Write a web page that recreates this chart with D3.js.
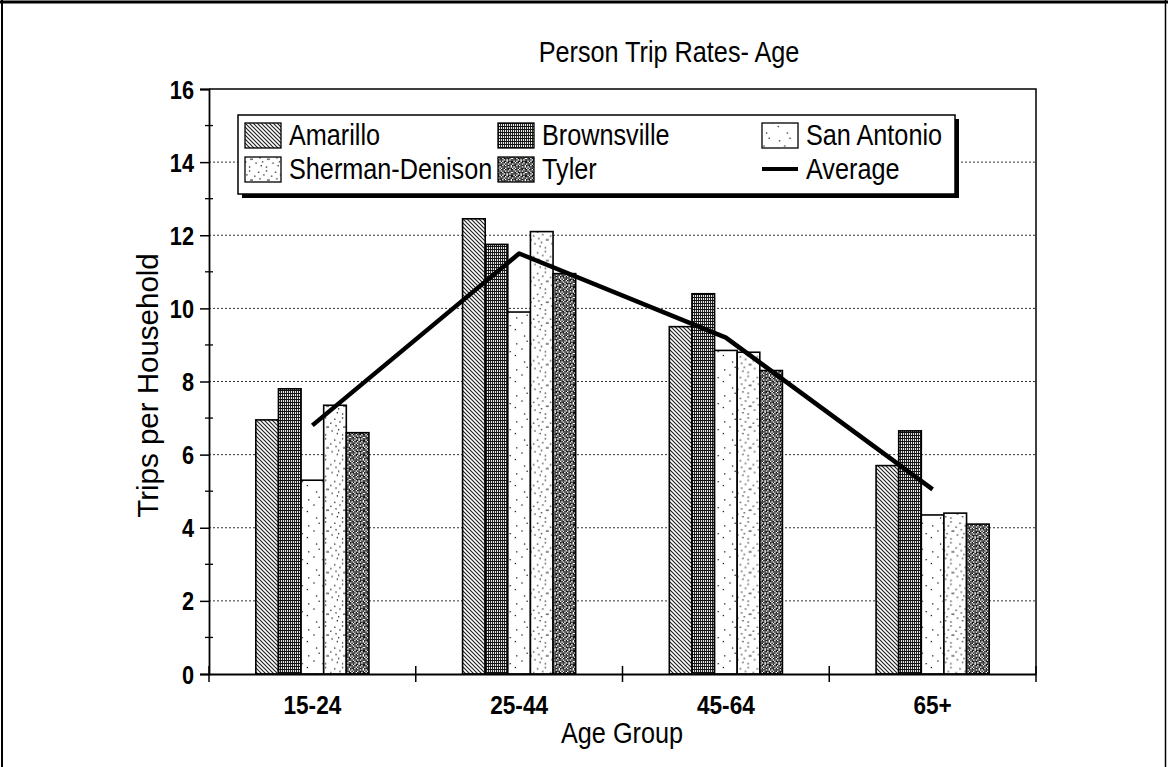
<!DOCTYPE html>
<html>
<head>
<meta charset="utf-8">
<script src="https://cdn.jsdelivr.net/npm/d3@7"></script>
<style>
  html, body { margin: 0; padding: 0; background: #fff; }
  svg { display: block; font-family: Arial, "Liberation Sans", sans-serif; }
</style>
</head>
<body>
<svg id="chart" width="1168" height="767"></svg>
<script>
// Person trip rates by age group, five study areas plus the average
const categories = ["15-24", "25-44", "45-64", "65+"];
const seriesNames = ["Amarillo", "Brownsville", "San Antonio", "Sherman-Denison", "Tyler"];
const amarillo    = [6.95, 12.45, 9.5, 5.7];
const brownsville = [7.8, 11.75, 10.4, 6.65];
const sanAntonio  = [5.3, 9.9, 8.85, 4.35];
const sherman     = [7.35, 12.1, 8.8, 4.4];
const tyler       = [6.6, 10.95, 8.3, 4.1];
const average     = [6.8, 11.5, 9.2, 5.05];
const yTicks = [0, 2, 4, 6, 8, 10, 12, 14, 16];

const seriesValues = [amarillo, brownsville, sanAntonio, sherman, tyler];

const svg = d3.select("#chart");
const W = 1168, H = 767;
const plot = { left: 209, right: 1036, top: 89, bottom: 674 };
const FONT = "Arial, 'Liberation Sans', sans-serif";
const SX = 0.87; // narrow letterforms

// ---------- fill patterns ----------
const defs = svg.append("defs");

// diagonal hatch
const pHatch = defs.append("pattern").attr("id", "p-hatch")
  .attr("patternUnits", "userSpaceOnUse").attr("width", 4).attr("height", 4);
pHatch.append("rect").attr("width", 4).attr("height", 4).attr("fill", "#fff");
pHatch.append("path").attr("d", "M-1,-1 L5,5 M-1,3 L1,5 M3,-1 L5,1")
  .attr("stroke", "#222").attr("stroke-width", 1.2);

// dense grid
const pGrid = defs.append("pattern").attr("id", "p-grid")
  .attr("patternUnits", "userSpaceOnUse").attr("width", 4).attr("height", 3);
pGrid.append("rect").attr("width", 4).attr("height", 3).attr("fill", "#fff");
pGrid.append("path").attr("d", "M0,0.5 H4 M0.6,0 V3 M2.6,0 V3")
  .attr("stroke", "#111").attr("stroke-width", 1);

// bitmap-style tiles for the stippled fills
function bitmapPattern(id, rows, px, ink) {
  const h = rows.length, w = rows[0].length;
  const p = defs.append("pattern").attr("id", id)
    .attr("patternUnits", "userSpaceOnUse").attr("width", w * px).attr("height", h * px);
  p.append("rect").attr("width", w * px).attr("height", h * px).attr("fill", "#fff");
  rows.forEach((r, j) => r.split("").forEach((c, i) => {
    if (c === "1") p.append("rect").attr("x", i * px).attr("y", j * px)
      .attr("width", px).attr("height", px).attr("fill", ink);
  }));
}
bitmapPattern("p-dark", [
  "1011011101",
  "1101101011",
  "0110111110",
  "1111010101",
  "1010110111",
  "1101101101",
  "0111011011",
  "1110101110",
  "1011111010",
  "0101101111"
], 1.4, "#151515");
bitmapPattern("p-sparse", [
  "0000000000000000",
  "0000000000000000",
  "0000010000000000",
  "0000000000000000",
  "0000000000000100",
  "0000000000000000",
  "0000000000000000",
  "0000000000000000",
  "0100000000000000",
  "0000000000000000",
  "0000000010000000",
  "0000000000000000",
  "0000000000000000",
  "0000000000001000",
  "0000000000000000",
  "0000000000000000",
  "0000000000000000",
  "0000000000000000",
  "0001000000000000",
  "0000000000000000"
], 1.3, "#222");
bitmapPattern("p-stipple", [
  "0000000000000",
  "0001000000000",
  "0000000000100",
  "0000000000000",
  "0100000000000",
  "0000000100000",
  "0000000000000",
  "0000000000010",
  "0000110000000",
  "0000000000000",
  "1000000000000",
  "0000000010000",
  "0000000000000",
  "0000000000001",
  "0001000000000",
  "0000000000000"
], 1.3, "#222");

const fills = ["url(#p-hatch)", "url(#p-grid)", "url(#p-sparse)", "url(#p-stipple)", "url(#p-dark)"];

// text with narrowed glyphs
function label(parent, x, y, str, size, anchor, weight) {
  return parent.append("text")
    .attr("transform", `translate(${x},${y}) scale(${SX},1)`)
    .attr("text-anchor", anchor || "start")
    .attr("font-family", FONT)
    .attr("font-size", size)
    .attr("font-weight", weight || "normal")
    .attr("fill", "#000")
    .text(str);
}

// ---------- outer frame ----------
svg.append("line").attr("x1", 0).attr("x2", W).attr("y1", 2).attr("y2", 2)
  .attr("stroke", "#000").attr("stroke-width", 3);
svg.append("line").attr("x1", 2).attr("x2", 2).attr("y1", 0).attr("y2", H)
  .attr("stroke", "#000").attr("stroke-width", 2);
svg.append("line").attr("x1", 1165.5).attr("x2", 1165.5).attr("y1", 0).attr("y2", H)
  .attr("stroke", "#000").attr("stroke-width", 1.5);

// ---------- scales ----------
const y = d3.scaleLinear().domain([0, 16]).range([plot.bottom, plot.top]);
const x0 = d3.scaleBand().domain(categories).range([plot.left, plot.right])
  .paddingInner(0.453).paddingOuter(0.2265);
const x1 = d3.scaleBand().domain(seriesNames).range([0, x0.bandwidth()]);

// ---------- gridlines ----------
svg.append("g").selectAll("line").data(yTicks.filter(d => d > 0 && d < 16)).join("line")
  .attr("x1", plot.left).attr("x2", plot.right)
  .attr("y1", d => y(d)).attr("y2", d => y(d))
  .attr("stroke", "#333").attr("stroke-width", 1).attr("stroke-dasharray", "2,2");

// plot border (top and right)
svg.append("path")
  .attr("d", `M${plot.left},${plot.top} H${plot.right} V${plot.bottom}`)
  .attr("fill", "none").attr("stroke", "#000").attr("stroke-width", 1.5);

// ---------- bars ----------
const barRows = [];
categories.forEach((c, ci) => seriesNames.forEach((s, si) =>
  barRows.push({ c, s, si, v: seriesValues[si][ci] })));

svg.append("g").selectAll("rect").data(barRows).join("rect")
  .attr("x", d => x0(d.c) + x1(d.s))
  .attr("y", d => y(d.v))
  .attr("width", x1.bandwidth())
  .attr("height", d => y(0) - y(d.v))
  .attr("fill", d => fills[d.si])
  .attr("stroke", "#000").attr("stroke-width", 1.6);

// ---------- average line ----------
const line = d3.line()
  .x((d, i) => x0(categories[i]) + x0.bandwidth() / 2)
  .y(d => y(d));
svg.append("path").datum(average).attr("d", line)
  .attr("fill", "none").attr("stroke", "#000").attr("stroke-width", 4.5)
  .attr("stroke-linejoin", "round");

// ---------- axes ----------
const yAxis = d3.axisLeft(y).tickValues(yTicks).tickSize(9).tickFormat("");
const gy = svg.append("g").attr("transform", `translate(${plot.left},0)`).call(yAxis);
gy.select(".domain").attr("stroke", "#000").attr("stroke-width", 1.8);
gy.selectAll(".tick line").attr("stroke", "#000").attr("stroke-width", 1.5);
gy.selectAll(".tick").each(function (d) {
  label(d3.select(this), -15, 9, d, 25, "end", "bold");
});
// minor ticks at odd values
const minor = d3.range(1, 16, 2);
svg.append("g").selectAll("line").data(minor).join("line")
  .attr("x1", plot.left - 4).attr("x2", plot.left + 4)
  .attr("y1", d => y(d)).attr("y2", d => y(d))
  .attr("stroke", "#000").attr("stroke-width", 1.3);

const xAxis = d3.axisBottom(x0).tickSize(0).tickFormat("");
const gx = svg.append("g").attr("transform", `translate(0,${plot.bottom})`).call(xAxis);
gx.select(".domain").attr("stroke", "#000").attr("stroke-width", 1.8);
gx.selectAll(".tick").each(function (d) {
  label(d3.select(this), 0, 40, d, 26, "middle", "bold");
});
// category boundary ticks
const step = x0.step();
svg.append("g").selectAll("line").data(d3.range(categories.length + 1)).join("line")
  .attr("x1", i => plot.left + i * step).attr("x2", i => plot.left + i * step)
  .attr("y1", plot.bottom - 8).attr("y2", plot.bottom + 8)
  .attr("stroke", "#000").attr("stroke-width", 1.5);

// ---------- titles ----------
label(svg, 669, 62, "Person Trip Rates- Age", 29, "middle");
label(svg, 622, 743, "Age Group", 29, "middle");
svg.append("text")
  .attr("transform", `translate(158,${(plot.top + plot.bottom) / 2 + 4}) rotate(-90)`)
  .attr("text-anchor", "middle").attr("font-family", FONT).attr("font-size", 29.5)
  .text("Trips per Household");

// ---------- legend ----------
const lg = svg.append("g");
const box = { x: 238, y: 115, w: 717, h: 79 };
lg.append("rect").attr("x", box.x + 4).attr("y", box.y + 4).attr("width", box.w).attr("height", box.h)
  .attr("fill", "#000");
lg.append("rect").attr("x", box.x).attr("y", box.y).attr("width", box.w).attr("height", box.h)
  .attr("fill", "#fff").attr("stroke", "#000").attr("stroke-width", 1.5);

const legendItems = seriesNames.map((s, i) => ({ name: s, fill: fills[i], kind: "bar" }))
  .concat([{ name: "Average", kind: "line" }]);
const colX = [245, 498, 762];
const rowY = [135, 169];
const items = lg.selectAll("g.item").data(legendItems).join("g").attr("class", "item")
  .attr("transform", (d, i) => `translate(${colX[i % 3]},${rowY[Math.floor(i / 3)]})`);
items.filter(d => d.kind === "bar").append("rect")
  .attr("x", 0).attr("y", -12).attr("width", 36).attr("height", 25)
  .attr("fill", d => d.fill).attr("stroke", "#000").attr("stroke-width", 1.3);
items.filter(d => d.kind === "line").append("line")
  .attr("x1", 0).attr("x2", 36).attr("y1", 0).attr("y2", 0)
  .attr("stroke", "#000").attr("stroke-width", 4);
items.each(function (d) {
  label(d3.select(this), 44, 10, d.name, 29, "start");
});
</script>
</body>
</html>
